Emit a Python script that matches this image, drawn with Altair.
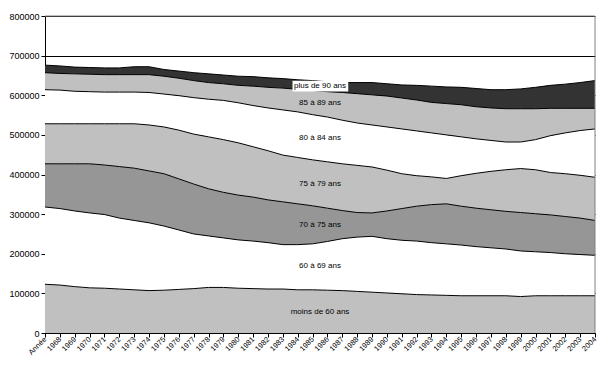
import altair as alt
import pandas as pd
import numpy as np

categories = ["Année", "1968", "1969", "1970", "1971", "1972", "1973", "1974", "1975",
              "1976", "1977", "1978", "1979", "1980", "1981", "1982", "1983", "1984",
              "1985", "1986", "1987", "1988", "1989", "1990", "1991", "1992", "1993",
              "1994", "1995", "1996", "1997", "1998", "1999", "2000", "2001", "2002",
              "2003", "2004"]

series_names = ["moins de 60 ans", "60 à 69 ans", "70 à 75 ans", "75 à 79 ans",
                "80 à 84 ans", "85 à 89 ans", "plus de 90 ans"]

moins_60 = [123000, 121000, 117000, 114000, 113000, 111000, 109000, 107000, 108000, 110000,
            112000, 115000, 115000, 113000, 112000, 111000, 111000, 109000, 109000, 108000,
            107000, 105000, 103000, 101000, 99000, 97000, 96000, 95000, 94000, 94000,
            94000, 94000, 92000, 94000, 94000, 94000, 94000, 94000]
a60_69 = [195000, 193000, 191000, 189000, 186000, 179000, 175000, 171000, 162000, 150000,
          138000, 130000, 125000, 122000, 120000, 117000, 112000, 114000, 116000, 123000,
          131000, 137000, 141000, 137000, 135000, 135000, 132000, 130000, 128000, 124000,
          121000, 118000, 115000, 111000, 109000, 106000, 104000, 102000]
a70_75 = [109000, 113000, 119000, 124000, 125000, 130000, 132000, 131000, 132000, 129000,
          126000, 119000, 115000, 113000, 111000, 108000, 108000, 103000, 96000, 84000,
          71000, 62000, 59000, 70000, 80000, 88000, 96000, 101000, 98000, 97000,
          96000, 95000, 97000, 96000, 95000, 94000, 92000, 88000]
a75_79 = [101000, 101000, 101000, 101000, 104000, 108000, 112000, 116000, 118000, 123000,
          126000, 131000, 133000, 132000, 127000, 124000, 118000, 117000, 116000, 117000,
          118000, 119000, 116000, 103000, 88000, 77000, 70000, 64000, 77000, 88000,
          97000, 105000, 111000, 111000, 107000, 108000, 108000, 109000]
a80_84 = [86000, 85000, 82000, 81000, 80000, 80000, 80000, 82000, 83000, 87000,
          92000, 95000, 99000, 101000, 104000, 108000, 114000, 115000, 114000, 113000,
          110000, 107000, 106000, 109000, 113000, 113000, 111000, 110000, 98000, 87000,
          78000, 70000, 67000, 76000, 93000, 103000, 113000, 122000]
a85_89 = [43000, 42000, 44000, 44000, 44000, 44000, 44000, 45000, 45000, 44000,
          43000, 42000, 42000, 44000, 49000, 52000, 55000, 57000, 61000, 64000,
          70000, 74000, 76000, 78000, 78000, 78000, 77000, 79000, 81000, 81000,
          82000, 84000, 84000, 78000, 69000, 62000, 56000, 52000]
plus_90 = [19000, 19000, 17000, 17000, 17000, 17000, 20000, 20000, 17000, 18000,
           20000, 22000, 22000, 23000, 24000, 24000, 24000, 24000, 25000, 25000,
           25000, 28000, 31000, 31000, 33000, 37000, 41000, 42000, 44000, 46000,
           46000, 48000, 50000, 54000, 58000, 61000, 65000, 70000]

y_ticks = [0, 100000, 200000, 300000, 400000, 500000, 600000, 700000, 800000]

colors = ["#C0C0C0", "#FFFFFF", "#969696", "#C0C0C0", "#FFFFFF", "#C0C0C0", "#333333"]

all_series = [moins_60, a60_69, a70_75, a75_79, a80_84, a85_89, plus_90]
n = len(categories)

rows = []
for k, (name, vals) in enumerate(zip(series_names, all_series)):
    for i, v in enumerate(vals):
        rows.append({"idx": i, "serie": name, "ord": k, "val": v})
df = pd.DataFrame(rows)

# label positions: middle of each band, between the two central categories
cum = np.cumsum(np.array(all_series, dtype=float), axis=0)
bottoms = np.vstack([np.zeros(n), cum[:-1]])
mids = (cum + bottoms) / 2
mid_i = (n - 1) / 2
i0, i1 = int(np.floor(mid_i)), int(np.ceil(mid_i))
labels_df = pd.DataFrame({
    "idx": [mid_i] * len(series_names),
    "v1": [(mids[k, i0] + mids[k, i1]) / 2 for k in range(len(series_names))],
    "text": series_names,
})
top_label = labels_df.iloc[[-1]].reset_index(drop=True)
box_df = pd.DataFrame({
    "idx": top_label["idx"] - 1.85, "x2": top_label["idx"] + 1.9,
    "v1": top_label["v1"] - 13500, "y2": top_label["v1"] + 13500,
})

label_expr = "[" + ",".join("'" + c + "'" for c in categories) + "][datum.value]"

FONT = "Liberation Sans"

x_scale = alt.Scale(domain=[0, n - 1], nice=False, zero=False)
x_axis = alt.Axis(values=list(range(n)), labelExpr=label_expr, labelAngle=-45,
                  labelAlign="right", labelBaseline="middle", labelFontSize=7.5,
                  labelPadding=1, tickSize=4, grid=False, domainColor="black",
                  tickColor="black", title=None, labelColor="black", labelFont=FONT,
                  labelOverlap=False, labelBound=False, labelFlush=False)
y_scale = alt.Scale(domain=[0, 800000], nice=False)
y_axis = alt.Axis(values=y_ticks, format="d", grid=True, gridColor="black", gridWidth=1,
                  tickSize=4, labelFontSize=9, labelPadding=2, domainColor="black",
                  tickColor="black", title=None, labelFont=FONT, labelColor="black",
                  labelOverlap=False, labelFlush=False)

X = alt.X("idx:Q", scale=x_scale, axis=x_axis)
Y = alt.Y("v1:Q", scale=y_scale, axis=y_axis)

base = alt.Chart(df).transform_stack(
    stack="val", groupby=["idx"], as_=["v0", "v1"], sort=[alt.SortField("ord", order="ascending")]
)

areas = base.mark_area(opacity=1, interpolate="linear").encode(
    x=X, y=Y, y2="v0:Q",
    color=alt.Color("serie:N", scale=alt.Scale(domain=series_names, range=colors), legend=None),
)

lines = base.mark_line(color="black", strokeWidth=1, interpolate="linear").encode(
    x=X, y=Y, detail="serie:N",
)

box = alt.Chart(box_df).mark_rect(fill="white").encode(
    x=X, x2="x2:Q", y=Y, y2="y2:Q"
)

texts = alt.Chart(labels_df).mark_text(font=FONT, fontSize=8, color="black",
                                       align="center", baseline="middle").encode(
    x=X, y=Y, text="text:N"
)

top_rule = alt.Chart(pd.DataFrame({"v1": [y_ticks[-1]]})).mark_rule(color="#808080").encode(y=Y)
right_rule = alt.Chart(pd.DataFrame({"idx": [n - 1]})).mark_rule(color="#808080").encode(x=X)

chart = alt.layer(areas, lines, box, texts, top_rule, right_rule).properties(
    width=550, height=317,
    padding={"left": 37, "top": 8, "right": 2, "bottom": 40},
    autosize=alt.AutoSizeParams(type="none"),
    background="white",
).configure_view(stroke=None)

chart.save("out.html", embed_options={"renderer": "svg", "actions": False})
